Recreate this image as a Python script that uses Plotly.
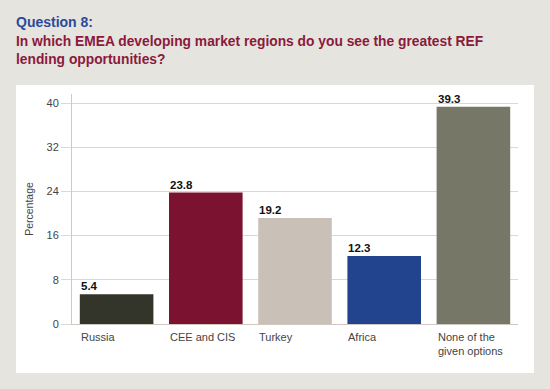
import plotly.graph_objects as go

categories = ["Russia", "CEE and CIS", "Turkey", "Africa", "None of the<br>given options"]
values = [5.4, 23.8, 19.2, 12.3, 39.3]
value_labels = ["5.4", "23.8", "19.2", "12.3", "39.3"]
bar_colors = ["#33342a", "#7a1230", "#c9c1b7", "#22448f", "#767766"]
y_ticks = [0, 8, 16, 24, 32, 40]

W, H = 550, 389
L, R, T, B = 72, 32, 94, 65
pw, ph = W - L - R, H - T - B

def px_x(px):
    return (px - L) / pw

def px_y(py):
    return (H - B - py) / ph

font = "Arial, Liberation Sans, sans-serif"
bargap = 0.175
cat_w = pw / len(categories)
half_bar = cat_w * (1 - bargap) / 2

fig = go.Figure()
fig.add_trace(go.Bar(
    x=list(range(len(categories))), y=values,
    marker=dict(color=bar_colors, line=dict(width=0)),
    hoverinfo="skip",
))

annotations = []
for i, (v, lab) in enumerate(zip(values, value_labels)):
    annotations.append(dict(
        x=i, y=v, xref="x", yref="y", text="<b>" + lab + "</b>",
        xanchor="left", yanchor="bottom", xshift=-half_bar - 1, yshift=0,
        showarrow=False, font=dict(family=font, size=11.5, color="#111111"),
    ))
for i, c in enumerate(categories):
    annotations.append(dict(
        x=i, y=0, xref="x", yref="y", text=c, align="left",
        xanchor="left", yanchor="top", xshift=-half_bar - 1, yshift=-5,
        showarrow=False, font=dict(family=font, size=11, color="#444444"),
    ))
annotations.append(dict(
    x=px_x(14), y=px_y(22), xref="paper", yref="paper",
    text="<b>Question 8:</b>", xanchor="left", yanchor="middle",
    showarrow=False, font=dict(family=font, size=14, color="#2b4a9b"),
))
annotations.append(dict(
    x=px_x(14), y=px_y(51), xref="paper", yref="paper", align="left",
    text="<b>In which EMEA developing market regions do you see the greatest REF<br>lending opportunities?</b>",
    xanchor="left", yanchor="middle",
    showarrow=False, font=dict(family=font, size=13.8, color="#8a1a3c"),
))

shapes = [dict(
    type="rect", xref="paper", yref="paper", layer="below",
    x0=px_x(16), x1=px_x(534), y0=px_y(373), y1=px_y(85),
    fillcolor="white", line=dict(width=0),
)]

fig.update_layout(
    width=W, height=H,
    margin=dict(l=L, r=R, t=T, b=B),
    paper_bgcolor="#e6e4df", plot_bgcolor="white",
    bargap=bargap, showlegend=False,
    annotations=annotations, shapes=shapes,
    font=dict(family=font, size=11, color="#444444"),
    xaxis=dict(
        range=[-0.5, len(categories) - 0.5], showticklabels=False,
        showgrid=False, zeroline=False, showline=True,
        linecolor="#cfc9c1", linewidth=1, ticks="", fixedrange=True,
    ),
    yaxis=dict(
        range=[0, 41.63], tickvals=y_ticks, ticktext=[str(t) for t in y_ticks],
        showgrid=True, gridcolor="#ddd7cf", gridwidth=1,
        zeroline=False, showline=True, linecolor="#cfc9c1", linewidth=1,
        ticks="outside", ticklen=10, tickcolor="#ddd7cf",
        tickfont=dict(family=font, size=11, color="#444444"),
        title=dict(text="Percentage", font=dict(family=font, size=10.5, color="#444444"), standoff=10),
        fixedrange=True,
    ),
)

fig.write_html("out.html", config={"displayModeBar": False},
               post_script="document.body.style.margin='0';document.body.style.background='#e6e4df';")
